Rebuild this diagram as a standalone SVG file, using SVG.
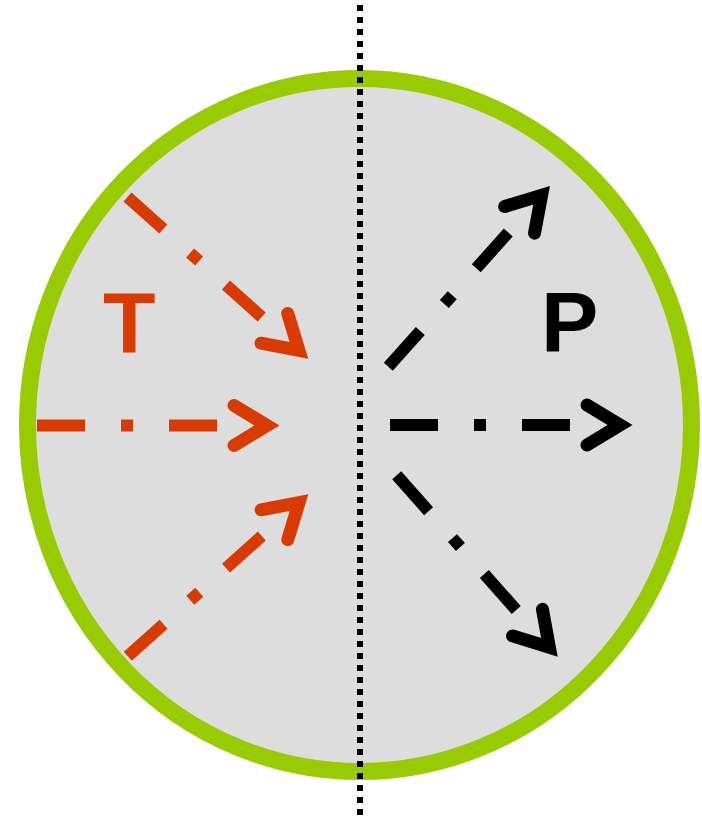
<svg xmlns="http://www.w3.org/2000/svg" xmlns:xlink="http://www.w3.org/1999/xlink" width="702" height="818" viewBox="0 0 702 818">
  <style>
    .dash { fill: none; stroke: currentColor; stroke-width: 12; stroke-linecap: butt; }
    .head { fill: none; stroke: currentColor; stroke-width: 13; stroke-linecap: round; stroke-linejoin: miter; stroke-miterlimit: 10; }
    .red { color: #D93A00; }
    .blk { color: #000000; }
    .lbl { font-family: "Liberation Sans", Arial, sans-serif; font-weight: bold; font-size: 86px; }
  </style>
  <defs>
    <g id="arrow">
      <path class="dash" d="M0 0 H48 M84 0 H96 M132 0 H180"/>
      <polyline class="head" points="197,-20 230,0 197,20"/>
    </g>
  </defs>
  <rect width="702" height="818" fill="#FFFFFF"/>
  <g id="cell">
    <ellipse cx="359.5" cy="425" rx="332" ry="346.5" fill="#DDDDDD" stroke="#99CC00" stroke-width="17"/>
  </g>
  <g id="connectors">
    <use xlink:href="#arrow" class="red" transform="translate(127.5,197) rotate(41.8)"/>
    <use xlink:href="#arrow" class="red" transform="translate(37,425.5)"/>
    <use xlink:href="#arrow" class="red" transform="translate(127.8,656.3) rotate(-41.9)"/>
    <use xlink:href="#arrow" class="blk" transform="translate(388.3,366.7) rotate(-48.2)"/>
    <use xlink:href="#arrow" class="blk" transform="translate(390,425)"/>
    <use xlink:href="#arrow" class="blk" transform="translate(396.7,475.3) rotate(48.4)"/>
  </g>
  <g id="label-T">
    <text class="lbl" x="103" y="352" fill="#D93A00">T</text>
  </g>
  <g id="label-P">
    <text class="lbl" x="541" y="352" fill="#000000">P</text>
  </g>
  <g id="axis">
    <line x1="360" y1="5" x2="360" y2="818" stroke="#000000" stroke-width="6" stroke-dasharray="6 6"/>
  </g>
</svg>
